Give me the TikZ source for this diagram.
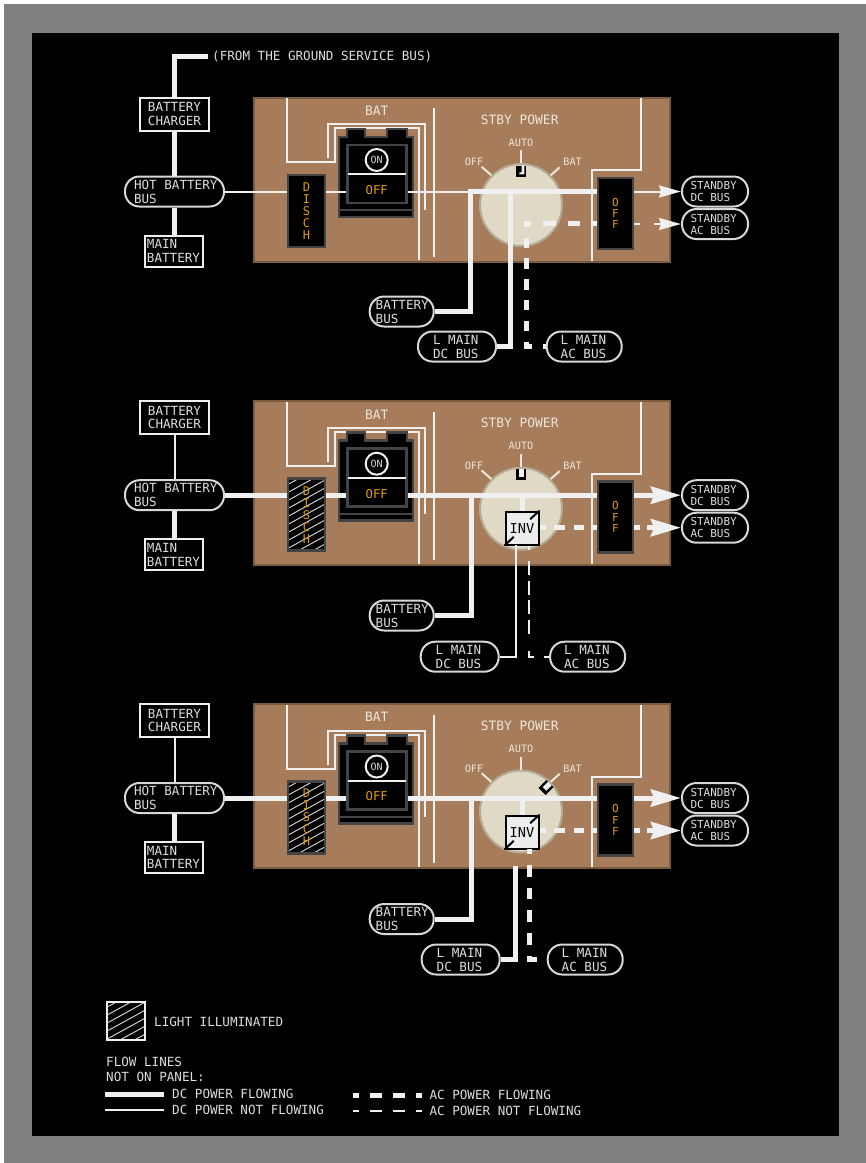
\documentclass[tikz,border=0pt]{standalone}
\usepackage{fontspec}
\setmainfont{DejaVu Sans Mono}
\usetikzlibrary{arrows.meta,positioning}

\definecolor{flowwhite}{HTML}{F0F0F0}
\definecolor{panelbrown}{HTML}{A67C5B}
\definecolor{paneledge}{HTML}{7A5C3E}
\definecolor{paneltext}{HTML}{EDE6DA}
\definecolor{dialfill}{HTML}{E0D9C6}
\definecolor{dialedge}{HTML}{B5AB95}
\definecolor{lampedge}{HTML}{444444}
\definecolor{lampfont}{HTML}{E09A0C}
\definecolor{invfill}{HTML}{EDEDED}

\tikzset{
  dcflow/.style={draw=flowwhite,line width=5pt},
  dcthin/.style={draw=flowwhite,line width=2pt},
  acflow/.style={draw=flowwhite,line width=5pt},
  acthin/.style={draw=flowwhite,line width=2pt},
  smallhead/.style={-{Stealth[length=22pt,width=12pt,inset=2pt]},flowwhite},
  bighead/.style={-{Stealth[length=30pt,width=17pt,inset=3pt]},flowwhite},
  txt/.style={inner sep=0pt,text=flowwhite!92!black,font=\fontsize{12.6}{14.5}\selectfont},
  sourcebox/.style n args={2}{draw=flowwhite,fill=black,line width=2pt,text=flowwhite!92!black,inner sep=0pt,
    minimum width=#1,minimum height=#2,align=flush left,font=\fontsize{12.6}{13.5}\selectfont},
  bus/.style n args={2}{draw=flowwhite!90!black,fill=black,line width=2pt,text=flowwhite!92!black,rounded corners=14.5pt,
    inner ysep=0pt,inner xsep=#2,minimum height=30pt,text width=#1,align=flush left,font=\fontsize{12.6}{14}\selectfont},
  standby/.style={bus={49pt}{8.5pt},font=\fontsize{11}{12}\selectfont},
  panelbox/.style={draw=paneledge,fill=panelbrown,line width=2pt,minimum width=416pt,minimum height=164pt,inner sep=0pt},
  panellabel/.style={inner sep=0pt,text=paneltext,font=\fontsize{12.9}{14}\selectfont},
  dialmark/.style={inner sep=0pt,text=paneltext,font=\fontsize{10.2}{12}\selectfont},
  wire/.style={draw=flowwhite,line width=2pt},
  tickline/.style={draw=paneltext,line width=2pt},
  lamp/.style={draw=lampedge,fill=black,line width=2.5pt,inner sep=0pt,text=lampfont,align=center},
  lit/.style={path picture={
    \foreach \hy in {-88,-80,...,104}
      \draw[flowwhite!85!black,line width=1pt] (path picture bounding box.center) ++(-30,\hy) -- ++(60,-33);
  }},
  dial/.style={circle,draw=dialedge,fill=dialfill,line width=2pt,minimum size=82pt,inner sep=0pt},
  knob/.style={fill=black,minimum width=10pt,minimum height=11pt,inner sep=0pt},
  knobmark/.style={fill=flowwhite,minimum width=5pt,minimum height=7.5pt,inner sep=0pt},
  inv/.style={draw=black,fill=invfill,line width=2pt,minimum size=33pt,inner sep=0pt,text=black,font=\fontsize{13.7}{14}\selectfont},
  invtick/.style={draw=black,line width=2pt}
}

\newcommand{\stbypanel}[2]{
  \node[panelbox] (#1panel) at (461.5,179.5) {};
  \node[panellabel] (#1bat) at (376.7,110.7) {BAT};
  \node[panellabel] (#1stby) at (519.7,119.5) {STBY POWER};
  % guard lines printed on the panel
  \draw[wire] (287,98) -- (287,162) -- (335,162) -- (335,128) -- (419,128) -- (419,260);
  \draw[wire] (328,158) -- (328,124) -- (425,124) -- (425,210);
  \draw[wire] (433.7,108) -- (433.7,256.7);
  \draw[wire] (640.7,98) -- (640.7,170) -- (592,170) -- (592,260.7);
  % rotary switch
  \node[dial] (#1dial) at (521,205) {};
  \draw[tickline] (#1dial.90) -- ++(0,-13);
  \draw[tickline] (#1dial.135) -- ++(-9.7,-8.6);
  \draw[tickline] (#1dial.45) -- ++(9,-8);
  \node[dialmark] (#1auto) at (521,142.5) {AUTO};
  \node[dialmark] (#1dialoff) at (474,162) {OFF};
  \node[dialmark] (#1dialbat) at (572.6,162) {BAT};
  % battery switch
  \draw[lampedge,fill=black,line width=2.5pt] (339,137) -- (347,137) -- (347,129) -- (365,129) -- (365,137)
    -- (387,137) -- (387,129) -- (407,129) -- (407,137) -- (413,137) -- (413,217) -- (339,217) -- cycle;
  \draw[lampedge,line width=2pt] (339,210) -- (413,210);
  \node[draw=lampedge,fill=black,line width=2.5pt,minimum width=59pt,minimum height=58pt,inner sep=0pt] (#1face) at (377,174) {};
  \draw[flowwhite,line width=2pt] ([xshift=2pt]#1face.west) -- ([xshift=-2pt]#1face.east);
  \node[circle,draw=flowwhite,line width=2pt,minimum size=22pt,inner sep=0pt,text=flowwhite!90!black,
    font=\fontsize{10}{12}\selectfont] (#1on) at (376.7,160) {ON};
  \node[inner sep=0pt,text=lampfont,font=\fontsize{12.2}{14}\selectfont] (#1swoff) at (376.7,190) {OFF};
  % lights
  \node[lamp,#2,minimum width=37pt,minimum height=72pt,font=\fontsize{12}{12}\selectfont] (#1disch) at (306.5,211) {D\\I\\S\\C\\H};
  \node[lamp,minimum width=35pt,minimum height=71pt,font=\fontsize{11}{11.4}\selectfont] (#1off) at (615.5,213.5) {O\\F\\F};
  % boxes outside of the panel
  \node[sourcebox={69pt}{33pt}] (#1charger) at (174.5,114) {BATTERY\\CHARGER};
  \node[sourcebox={58pt}{31pt}] (#1main) at (173.5,251) {MAIN\\BATTERY};
  \node[bus={81pt}{9pt}] (#1hot) at (174.5,191.5) {\mbox{HOT BATTERY}\\BUS};
  \node[standby] (#1sdc) at (715,191.5) {STANDBY\\DC BUS};
  \node[standby] (#1sac) at (715,224) {STANDBY\\AC BUS};
  \draw[dcflow] (#1hot.south) -- (#1hot.south |- #1main.north);
}

\begin{document}
\begin{tikzpicture}[x=1pt,y=-1pt]
  \useasboundingbox (0,0) rectangle (866,1163);
  \fill[white] (0,0) rectangle (866,1163);
  \fill[gray] (4,4) rectangle (866,1163);
  \fill[black] (32,33) rectangle (839,1136);

  % top: discharge light out, switch off
  \stbypanel{pa}{}
  \coordinate (gsb) at (208,56.5);
  \node[txt,anchor=west] (gsblabel) at (212,56.5) {(FROM THE GROUND SERVICE BUS)};
  \draw[dcflow] (gsb) -| (pacharger.north);
  \draw[dcflow] (pacharger.south) -- (pacharger.south |- pahot.north);
  \draw[dcthin] (pahot.east) -- (pahot.east -| padisch.west);
  \draw[dcthin] (pahot.east -| padisch.east) -- (pahot.east -| paface.west);
  \coordinate (pajoin) at (468,191.5);
  \draw[dcthin] (pahot.east -| paface.east) -- (pajoin);
  \draw[dcflow] (pajoin) -- (pajoin -| paoff.west);
  \node[knob] (paknob) at (521,171.5) {};
  \fill[flowwhite] (521.7,166) rectangle (524.3,174.3) (519.3,172.3) rectangle (524.3,174.3);
  \node[bus={52pt}{6pt}] (pabatt) at (401.7,311.5) {BATTERY\\BUS};
  \node[bus={48pt}{15pt}] (padc) at (457,346.5) {L MAIN\\DC BUS};
  \node[bus={47pt}{14pt}] (paac) at (584.2,346.5) {L MAIN\\AC BUS};
  \coordinate (pabattup) at (470.7,191.5);
  \coordinate (padcup) at (510.3,191.5);
  \coordinate (paacup) at (526.7,220.7);
  \draw[dcflow] (pabatt.east) -| (pabattup);
  \draw[dcflow] (padc.east) -| (padcup);
  \draw[acflow,dash pattern=on 10.5pt off 10.3pt,dash phase=4pt] (paacup) |- (paac.west);
  \draw[acflow,dash pattern=on 7.3pt off 11.7pt on 12.5pt off 12.3pt on 12.3pt off 12pt on 6pt] (524,223) -- (paoff.west |- 524,223);
  \draw[dcthin,smallhead] (paoff.east |- pasdc.west) -- (pasdc.west);
  \draw[acthin,smallhead,dash pattern=on 6pt off 14pt on 40pt] (paoff.east |- pasac.west) -- (pasac.west);

  % middle: discharge light on, switch at auto
  \begin{scope}[shift={(0,303.7)}]
    \stbypanel{pb}{lit}
  \end{scope}
  \draw[dcthin] (pbcharger.south) -- (pbcharger.south |- pbhot.north);
  \draw[dcflow] (pbhot.east) -- (pbhot.east -| pbdisch.west);
  \draw[dcflow] (pbhot.east -| pbdisch.east) -- (pbhot.east -| pbface.west);
  \draw[dcflow] (pbhot.east -| pbface.east) -- (pbhot.east -| pboff.west);
  \node[knob] (pbknob) at (521,474.5) {};
  \node[knobmark,anchor=north] (pbmark) at ([xshift=0.5pt]pbknob.north) {};
  \node[inv] (pbinv) at (522,528) {INV};
  \draw[invtick] (pbinv.south west) -- ++(9.3,-8.7);
  \draw[invtick] (pbinv.north east) -- ++(-9.3,8.7);
  \draw[dcflow] (pbhot.east -| pbinv.north) -- (pbinv.north);
  \node[bus={52pt}{6pt}] (pbbatt) at (401.7,615.5) {BATTERY\\BUS};
  \node[bus={48pt}{15pt}] (pbdc) at (459.7,656.7) {L MAIN\\DC BUS};
  \node[bus={47pt}{14pt}] (pbac) at (587.6,656.7) {L MAIN\\AC BUS};
  \coordinate (pbbattup) at (471.7,495.2);
  \coordinate (pbdcup) at (516.3,545);
  \coordinate (pbacup) at (529,545.7);
  \draw[dcflow] (pbbatt.east) -| (pbbattup);
  \draw[dcthin] (pbdc.east) -| (pbdcup);
  \draw[acthin,dash pattern=on 4.3pt off 11pt on 14pt off 5.7pt on 14pt off 5.7pt on 14pt off 5.7pt on 13.5pt off 17pt on 11.3pt off 9.3pt on 6pt] (pbacup) |- (pbac.west);
  \draw[acflow,dash pattern=on 6.3pt off 8.3pt on 10.7pt off 9.3pt on 10pt off 9.3pt on 5pt] (pbsac.west -| pbinv.east) -- (pbsac.west -| pboff.west);
  \draw[dcflow,bighead] (pboff.east |- pbsdc.west) -- (pbsdc.west);
  \draw[acflow,bighead,dash pattern=on 6pt off 7pt on 40pt] (pboff.east |- pbsac.west) -- (pbsac.west);

  % bottom: discharge light on, switch at bat
  \begin{scope}[shift={(0,606.5)}]
    \stbypanel{pc}{lit}
  \end{scope}
  \draw[dcthin] (pccharger.south) -- (pccharger.south |- pchot.north);
  \draw[dcflow] (pchot.east) -- (pchot.east -| pcdisch.west);
  \draw[dcflow] (pchot.east -| pcdisch.east) -- (pchot.east -| pcface.west);
  \draw[dcflow] (pchot.east -| pcface.east) -- (pchot.east -| pcoff.west);
  \node[knob,rotate=-45] (pcknob) at (546,787.5) {};
  \node[knobmark,rotate=-45,anchor=north] (pcmark) at (pcknob.north) {};
  \node[inv] (pcinv) at (522,832) {INV};
  \draw[invtick] (pcinv.south west) -- ++(9.3,-8.7);
  \draw[invtick] (pcinv.north east) -- ++(-9.3,8.7);
  \draw[dcflow] (pchot.east -| pcinv.north) -- (pcinv.north);
  \node[bus={52pt}{6pt}] (pcbatt) at (401.7,919) {BATTERY\\BUS};
  \node[bus={48pt}{15pt}] (pcdc) at (460.7,959.5) {L MAIN\\DC BUS};
  \node[bus={47pt}{14pt}] (pcac) at (585.2,959.5) {L MAIN\\AC BUS};
  \coordinate (pcbattup) at (471.7,798);
  \coordinate (pcdcup) at (515.3,866);
  \coordinate (pcacup) at (529.3,849);
  \draw[dcflow] (pcbatt.east) -| (pcbattup);
  \draw[dcflow] (pcdc.east) -| (pcdcup);
  \draw[acflow,dash pattern=on 11.7pt off 11pt,dash phase=6.7pt] (pcacup) |- (pcac.west);
  \draw[acflow,dash pattern=on 6.3pt off 8.3pt on 10.7pt off 9.3pt on 10pt off 9.3pt on 5pt] (pcsac.west -| pcinv.east) -- (pcsac.west -| pcoff.west);
  \draw[dcflow,bighead] (pcoff.east |- pcsdc.west) -- (pcsdc.west);
  \draw[acflow,bighead,dash pattern=on 6pt off 7pt on 40pt] (pcoff.east |- pcsac.west) -- (pcsac.west);

  % legend
  \node[draw=flowwhite,fill=black,line width=2pt,minimum size=38pt,inner sep=0pt,lit] (leglit) at (126.3,1021) {};
  \node[txt,anchor=west] (leglitlabel) at (154,1022) {LIGHT ILLUMINATED};
  \node[txt,anchor=north west,align=flush left] (legflow) at (106,1057) {FLOW LINES\\NOT ON PANEL:};
  \node[txt,anchor=west] (legdc) at (172,1094) {DC POWER FLOWING};
  \node[txt,anchor=west] (legdcoff) at (172,1109.5) {DC POWER NOT FLOWING};
  \node[txt,anchor=west] (legac) at (429.3,1095) {AC POWER FLOWING};
  \node[txt,anchor=west] (legacoff) at (429.3,1110.5) {AC POWER NOT FLOWING};
  \draw[dcflow] ([xshift=-8pt]legdc.west) -- ++(-59,0);
  \draw[dcthin] ([xshift=-8pt]legdcoff.west) -- ++(-59,0);
  \draw[acflow,dash pattern=on 6pt off 11pt on 12pt off 11pt on 12pt off 11pt on 6pt] ([xshift=-76.6pt]legac.west) -- ([xshift=-7.3pt]legac.west);
  \draw[acthin,dash pattern=on 6pt off 11pt on 12pt off 11pt on 12pt off 11pt on 6pt] ([xshift=-76.6pt]legacoff.west) -- ([xshift=-7.3pt]legacoff.west);
\end{tikzpicture}
\end{document}
